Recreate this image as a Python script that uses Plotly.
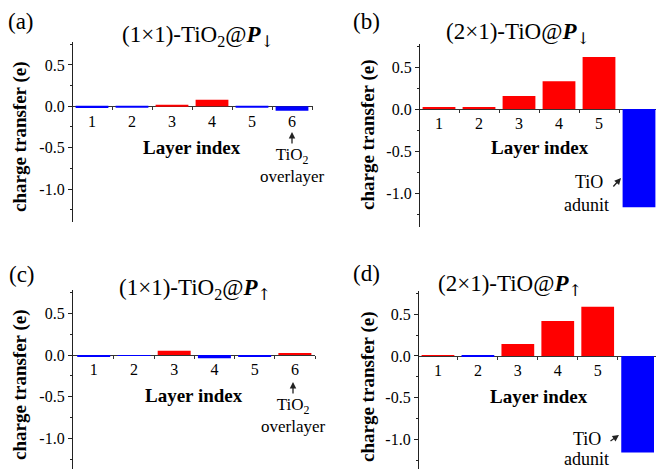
import plotly.graph_objects as go

W, H = 656, 469
FONT = "Liberation Serif, Times New Roman, serif"

layers = [1, 2, 3, 4, 5, 6]
tick_labels = ["1", "2", "3", "4", "5", "6"]
vals_a = [-0.02, -0.01, 0.01, 0.08, -0.015, -0.055]
vals_b = [0.025, 0.025, 0.155, 0.33, 0.62, -1.17]
vals_c = [-0.02, -0.01, 0.05, -0.04, -0.02, 0.02]
vals_d = [0.01, -0.01, 0.145, 0.42, 0.59, -1.16]

panel_labels = ["(a)", "(b)", "(c)", "(d)"]
DN = "<sub><span style='font-family:DejaVu Serif;color:black'>↓</span></sub>"
UP = "<sub><span style='font-family:DejaVu Serif;color:black'>↑</span></sub>"
titles = [
    "(1×1)-TiO<sub>2</sub>@<b><i>P</i></b>" + DN,
    "(2×1)-TiO@<b><i>P</i></b>" + DN,
    "(1×1)-TiO<sub>2</sub>@<b><i>P</i></b>" + UP,
    "(2×1)-TiO@<b><i>P</i></b>" + UP,
]
ytitle = "charge transfer (e)"
xtitle = "Layer index"

RED, BLUE = "#FF0000", "#0000FF"

def px(x):
    return x / W

def py(y):
    return 1 - y / H

panels = [
    dict(vals=vals_a, xl=73, xr=313, yt=41.8, yb=222.1, xr_=[0.525, 6.525], yr=[-1.4, 0.78]),
    dict(vals=vals_b, xl=420, xr=656, yt=43.5, yb=226.6, xr_=[0.525, 6.425], yr=[-1.4, 0.78]),
    dict(vals=vals_c, xl=73, xr=315, yt=290, yb=469, xr_=[0.485, 6.5], yr=[-1.368, 0.78]),
    dict(vals=vals_d, xl=419, xr=656, yt=291, yb=469, xr_=[0.525, 6.46], yr=[-1.357, 0.78]),
]

fig = go.Figure()
layout = dict(
    width=W, height=H, margin=dict(l=0, r=0, t=0, b=0),
    paper_bgcolor="white", plot_bgcolor="white",
    showlegend=False, font=dict(family=FONT, color="black"),
    annotations=[],
)

for i, p in enumerate(panels):
    n = "" if i == 0 else str(i + 1)
    colors = [RED if v >= 0 else BLUE for v in p["vals"]]
    fig.add_trace(go.Bar(x=layers, y=p["vals"], marker=dict(color=colors, line=dict(width=0)),
                         width=0.82, xaxis="x" + n, yaxis="y" + n))
    xd = [px(p["xl"]), px(p["xr"])]
    yd = [py(p["yb"]), py(p["yt"])]
    r0, r1 = p["yr"]
    zpos = yd[0] + (0 - r0) / (r1 - r0) * (yd[1] - yd[0])
    layout["xaxis" + n] = dict(
        domain=xd, range=p["xr_"], anchor="free", position=zpos,
        showline=True, linecolor="#333", linewidth=1, showgrid=False, zeroline=False,
        tickvals=layers, ticktext=tick_labels, ticks="", tickfont=dict(size=16, family=FONT),
        minor=dict(tickvals=[1.5, 2.5, 3.5, 4.5, 5.5, 6.5], ticks="outside", ticklen=3,
                   tickcolor="#333", showgrid=False),
        layer="below traces",
    )
    layout["yaxis" + n] = dict(
        domain=yd, range=p["yr"], anchor="x" + n,
        showline=True, linecolor="#222", linewidth=1.3, showgrid=False, zeroline=False,
        tickvals=[-1.0, -0.5, 0.0, 0.5], ticktext=["-1.0", "-0.5", "0.0", "0.5"],
        ticks="outside", ticklen=4, tickcolor="#222", tickfont=dict(size=16, family=FONT),
        minor=dict(tickvals=[-1.25, -0.75, -0.25, 0.25, 0.75], ticks="outside", ticklen=2,
                   tickcolor="#222", showgrid=False),
    )

ann = layout["annotations"]

def text(x, y, s, size, **kw):
    d = dict(x=px(x), y=py(y), xref="paper", yref="paper", text=s, showarrow=False,
             font=dict(size=size, family=FONT, color="black"), xanchor="center", yanchor="middle")
    d.update(kw)
    ann.append(d)

def arrow(x0, y0, x1, y1):
    ann.append(dict(x=px(x1), y=py(y1), xref="paper", yref="paper", ax=x0 - x1, ay=y0 - y1,
                    axref="pixel", ayref="pixel", text="", showarrow=True, arrowhead=2,
                    arrowsize=1, arrowwidth=1.3, arrowcolor="#222"))

# panel labels
for (x, y), s in zip([(21, 21), (366, 21), (22, 274), (366, 273)], panel_labels):
    text(x, y, s, 23)

# titles
for (x, y), s in zip([(120, 36), (444, 33), (117, 289), (436, 285)], titles):
    text(x, y, s, 23, xanchor="left")

# y titles
for x, y in [(20, 137), (368, 135), (20, 385), (368, 387)]:
    text(x, y, "<b>" + ytitle + "</b>", 19, textangle=-90)

# x titles
for x, y in [(192, 147), (540, 148), (194, 395), (539, 396)]:
    text(x, y, "<b>" + xtitle + "</b>", 19)

# TiO2 overlayer notes
text(292, 165, "TiO<sub>2</sub><br>overlayer", 17)
arrow(292, 145, 292, 132)
text(293, 415, "TiO<sub>2</sub><br>overlayer", 17)
arrow(293, 395, 293, 382)

# TiO adunit notes
text(589, 182, "TiO", 18)
text(586, 205, "adunit", 18)
arrow(612, 188, 621, 178)
text(587, 439, "TiO", 18)
text(586, 459, "adunit", 18)
arrow(609, 442, 619, 435)

fig.update_layout(**layout)
fig.write_html("out.html")
